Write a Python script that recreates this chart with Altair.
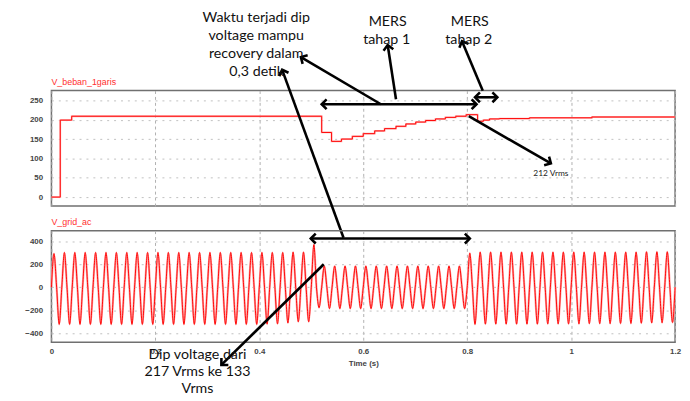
import math
import altair as alt
import pandas as pd

# ---------------- data ----------------
time_ticks = [0, 0.2, 0.4, 0.6, 0.8, 1.0, 1.2]
rms_ticks = [0, 50, 100, 150, 200, 250]
ac_ticks = [-400, -200, 0, 200, 400]

# V_beban_1garis : RMS staircase (value holds from each time until the next)
rms_time = [0, 0.017, 0.039, 0.520, 0.539, 0.558, 0.579, 0.600, 0.622, 0.641,
            0.663, 0.682, 0.701, 0.720, 0.739, 0.758, 0.778, 0.798, 0.820, 0.831,
            0.843, 0.862, 0.920, 1.040, 1.200]
rms_value = [0, 199, 209, 167, 144, 150, 157, 164, 171, 177,
             183, 189, 194, 198, 202, 206, 209, 213, 196, 199,
             202, 203, 205, 207, 207]

# V_grid_ac : 50 Hz, positive peak and negative trough of each of the 60 cycles
ac_cycle = 0.02
ac_peak = [292, 302, 302, 302, 302, 302, 302, 302, 302, 302,
           302, 302, 302, 302, 302, 302, 302, 302, 302, 302,
           302, 302, 302, 305, 305, 370, 185, 185, 185, 185,
           185, 185, 185, 185, 185, 185, 185, 185, 185, 185,
           296, 305, 305, 305, 305, 305, 305, 305, 305, 305,
           305, 305, 305, 305, 305, 305, 305, 308, 308, 308]
ac_trough = [-322, -322, -322, -322, -322, -322, -322, -322, -322, -322,
             -322, -322, -322, -322, -322, -322, -322, -322, -322, -322,
             -320, -318, -310, -300, -300, -178, -185, -185, -185, -185,
             -185, -185, -185, -185, -185, -185, -185, -185, -185, -185,
             -322, -320, -320, -320, -320, -320, -320, -318, -318, -318,
             -318, -316, -316, -316, -314, -314, -312, -310, -308, -306]

# panel names
top_name = ["V_beban_1garis"]
top_name_v = [298]
bot_name = ["V_grid_ac"]
bot_name_v = [569]

# annotations (data units of each panel)
top_text = ["Waktu terjadi dip", "voltage mampu", "recovery dalam", "0,3 detik",
            "MERS", "tahap 1", "MERS", "tahap 2"]
top_text_t = [0.394, 0.394, 0.394, 0.395, 0.647, 0.645, 0.805, 0.803]
top_text_v = [464, 416, 370, 324, 452, 406, 452, 406]
note_text = ["212 Vrms"]
note_t = [0.961]
note_v = [61]
bot_text = ["Dip voltage dari", "217 Vrms ke 133", "Vrms"]
bot_text_t = [0.281, 0.281, 0.281]
bot_text_v = [-588, -738, -888]

# arrows: start t, start v, end t, end v, head at start, head at end
top_arrows = [
    (0.520, 240, 0.818, 240, True, True),
    (0.815, 258, 0.858, 258, True, True),
    (0.663, 253, 0.647, 393, False, True),
    (0.830, 275, 0.790, 403, False, True),
    (0.634, 240, 0.480, 362, False, True),
    (0.562, -105, 0.444, 329, False, True),
    (0.803, 209, 0.961, 87, False, True),
]
bot_arrows = [
    (0.499, 423, 0.805, 423, True, True),
    (0.524, 200, 0.327, -675, False, True),
]

# ---------------- layout ----------------
W = 632
H_TOP = 117
H_BOT = 113
T_DOM = [0, 1.2]
TOP_DOM = [-23, 275.5]
BOT_DOM = [-477, 492]

rms_df = pd.DataFrame({"t": rms_time, "v": rms_value})

rows = []
for k, (p, q) in enumerate(zip(ac_peak, ac_trough)):
    t0 = k * ac_cycle
    rows += [(t0, 0), (t0 + ac_cycle / 4, p), (t0 + ac_cycle / 2, 0), (t0 + 3 * ac_cycle / 4, q)]
rows.append((len(ac_peak) * ac_cycle, 0))
ac_df = pd.DataFrame(rows, columns=["t", "v"])

CHEVRON = "M -1 -1 L 0 0 L -1 1"


def arrow_frames(arrows, dom, h):
    ppt = W / (T_DOM[1] - T_DOM[0])
    ppv = h / (dom[1] - dom[0])
    segs, heads = [], []
    for t1, v1, t2, v2, h1, h2 in arrows:
        segs.append({"t": t1, "v": v1, "t2": t2, "v2": v2})
        ang = math.degrees(math.atan2(-(v2 - v1) * ppv, (t2 - t1) * ppt)) % 360
        if h2:
            heads.append({"t": t2, "v": v2, "a": ang})
        if h1:
            heads.append({"t": t1, "v": v1, "a": (ang + 180) % 360})
    return pd.DataFrame(segs), pd.DataFrame(heads)


def make_x(show_labels):
    return alt.X(
        "t:Q",
        scale=alt.Scale(domain=T_DOM, nice=False, zero=False),
        axis=alt.Axis(
            values=time_ticks, labels=show_labels, format="~g", grid=True,
            gridDash=[3, 3], gridColor="#b0b0b0", ticks=False, domain=False,
            title="Time (s)" if show_labels else None, labelFlush=False,
            labelOverlap=False, labelPadding=5, titlePadding=5,
        ),
    )


def make_y(dom, ticks):
    return alt.Y(
        "v:Q",
        scale=alt.Scale(domain=dom, nice=False, zero=False),
        axis=alt.Axis(values=ticks, grid=True, gridDash=[2, 5], gridColor="#c0c0c0",
                      ticks=False, domain=False, title=None, labelPadding=9),
    )


def panel(df, name_df, dom, ticks, arrows, texts, h, show_x, interp, under_w, small_text=None):
    X = make_x(show_x)
    Y = make_y(dom, ticks)
    seg_df, head_df = arrow_frames(arrows, dom, h)
    layers = [
        alt.Chart(df).mark_line(color="#ffa8a8", strokeWidth=under_w, interpolate=interp).encode(x=X, y=Y),
        alt.Chart(df).mark_line(color="#ff0808", strokeWidth=1.0, interpolate=interp).encode(x=X, y=Y),
        alt.Chart(seg_df).mark_rule(color="black", strokeWidth=2.6).encode(
            x=X, y=Y, x2=alt.X2("t2:Q"), y2=alt.Y2("v2:Q")),
        alt.Chart(head_df).mark_point(shape=CHEVRON, filled=False, stroke="black", strokeWidth=2.6,
                                      size=100, opacity=1, strokeJoin="miter").encode(
            x=X, y=Y, angle=alt.Angle("a:Q", scale=None)),
        alt.Chart(texts).mark_text(font="Lato", fontSize=14.4, color="#111", align="center",
                                   baseline="middle").encode(x=X, y=Y, text="s:N"),
        alt.Chart(name_df).mark_text(font="Liberation Sans", fontSize=9, color="#ff3030",
                                     align="left", baseline="middle").encode(x=X, y=Y, text="s:N"),
    ]
    if small_text is not None:
        layers.append(alt.Chart(small_text).mark_text(font="Lato", fontSize=8.5, color="#222",
                                                      align="center", baseline="middle")
                      .encode(x=X, y=Y, text="s:N"))
    return alt.layer(*layers).properties(width=W, height=h)


top_texts_df = pd.DataFrame({"t": top_text_t, "v": top_text_v, "s": top_text})
note_df = pd.DataFrame({"t": note_t, "v": note_v, "s": note_text})
bot_texts_df = pd.DataFrame({"t": bot_text_t, "v": bot_text_v, "s": bot_text})
top_name_df = pd.DataFrame({"t": [0.0], "v": top_name_v, "s": top_name})
bot_name_df = pd.DataFrame({"t": [0.0], "v": bot_name_v, "s": bot_name})

top = panel(rms_df, top_name_df, TOP_DOM, rms_ticks, top_arrows, top_texts_df, H_TOP,
            False, "step-after", 1.8, small_text=note_df)
bottom = panel(ac_df, bot_name_df, BOT_DOM, ac_ticks, bot_arrows, bot_texts_df, H_BOT,
               True, "monotone", 2.2)

chart = alt.vconcat(top, bottom, spacing=25, bounds="flush").properties(
    padding={"left": 16, "top": -2, "right": 0, "bottom": 0}
).configure_view(stroke="#707070", strokeWidth=1.5).configure_axis(
    labelFont="Liberation Sans", labelFontSize=8, labelColor="#444", labelFontWeight="bold",
    titleFont="Liberation Sans", titleFontSize=8, titleColor="#444", titleFontWeight="bold",
)

chart.save("out.html", embed_options={"renderer": "svg", "actions": False})
